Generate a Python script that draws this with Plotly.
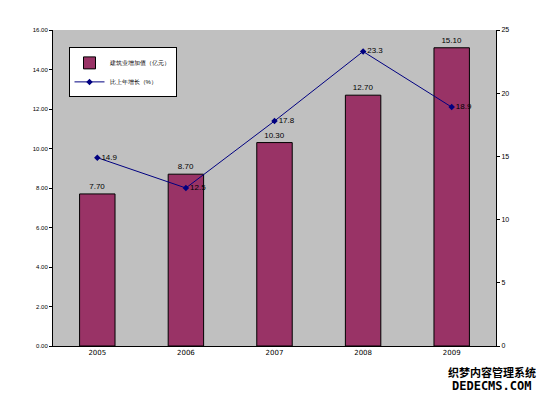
import plotly.graph_objects as go

years = ["2005", "2006", "2007", "2008", "2009"]
value_added = [7.70, 8.70, 10.30, 12.70, 15.10]
growth = [14.9, 12.5, 17.8, 23.3, 18.9]
left_ticks = [0, 2, 4, 6, 8, 10, 12, 14, 16]
right_ticks = [0, 5, 10, 15, 20, 25]

fig = go.Figure()
fig.add_trace(go.Bar(
    x=years, y=value_added, name="建筑业增加值（亿元）",
    marker=dict(color="#993366", line=dict(color="black", width=1)),
    width=0.4,
    text=[f"{v:.2f}" for v in value_added], textposition="outside",
    textfont=dict(size=8, color="black"), cliponaxis=False,
))
fig.add_trace(go.Scatter(
    x=years, y=growth, name="比上年增长（%）", yaxis="y2",
    mode="lines+markers+text",
    line=dict(color="#000080", width=1),
    marker=dict(symbol="diamond", size=5, color="#000080"),
    text=[f"{v}" for v in growth], textposition="middle right",
    textfont=dict(size=8, color="black"),
))

fig.update_layout(
    width=551, height=386,
    paper_bgcolor="white", plot_bgcolor="#C0C0C0",
    margin=dict(l=45, r=63, t=22, b=48, autoexpand=False),
    font=dict(family="Liberation Sans", size=7, color="black"),
    showlegend=True,
    legend=dict(x=0.035, y=0.945, xanchor="left", yanchor="top",
                bgcolor="white", bordercolor="black", borderwidth=1,
                font=dict(size=6), tracegroupgap=0, itemwidth=30,
                itemsizing="trace"),
    xaxis=dict(showgrid=False, showline=True, linecolor="black",
               ticks="", tickfont=dict(size=7, family="DejaVu Sans", color="black"),
               automargin=False),
    yaxis=dict(range=[0, 16], tickvals=left_ticks,
               ticktext=[f"{v:.2f}" for v in left_ticks],
               showgrid=False, showline=True, linecolor="black",
               ticks="outside", ticklen=3, tickcolor="black",
               tickfont=dict(size=6, color="black"),
               zeroline=False, automargin=False),
    yaxis2=dict(range=[0, 25], tickvals=right_ticks, overlaying="y", side="right",
                showgrid=False, showline=True, linecolor="black",
                ticks="outside", ticklen=3, tickcolor="black",
                tickfont=dict(size=7, color="black"), zeroline=False,
                automargin=False),
    annotations=[
        dict(x=0.99, y=-0.082, xref="paper", yref="paper", xanchor="center",
             yanchor="middle", text="<b>织梦内容管理系统</b>", showarrow=False,
             font=dict(size=11, color="black", family="Noto Sans CJK SC")),
        dict(x=0.99, y=-0.127, xref="paper", yref="paper", xanchor="center",
             yanchor="middle", text="<b>DEDECMS.COM</b>", showarrow=False,
             font=dict(size=12, color="black", family="DejaVu Sans Mono")),
    ],
)
fig.write_html("out.html")
